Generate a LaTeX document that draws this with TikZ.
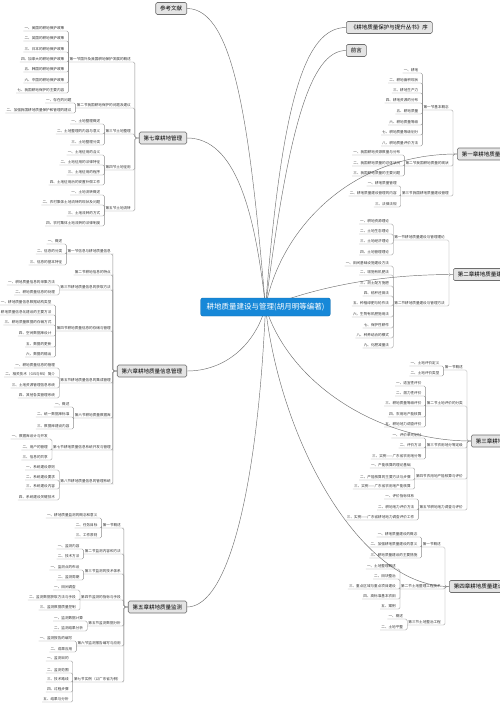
\documentclass[tikz,border=0pt]{standalone}
\usepackage{fontspec}
\setmainfont{Noto Sans CJK SC}
\usepackage{xcolor}
\usetikzlibrary{calc}
\pgfdeclarelayer{background}
\pgfsetlayers{background,main}

\definecolor{rootblue}{HTML}{1788D8}
\definecolor{linegray}{HTML}{8C8C8C}
\definecolor{boxgray}{HTML}{E4E4E4}
\definecolor{boxedge}{HTML}{6E6E6E}

\begin{document}
\begin{tikzpicture}[x=1pt,y=-1pt,
    root/.style={draw=rootblue!80!black, fill=rootblue, text=white, rounded corners=2pt,
        font=\fontsize{7.5}{9}\selectfont, inner xsep=6pt, minimum height=18pt},
    chap/.style={draw=boxedge, fill=boxgray, rounded corners=1.5pt, line width=0.6pt,
        font=\fontsize{5.5}{6.6}\selectfont, inner xsep=4.5pt, inner ysep=0pt, minimum height=12pt},
    sub/.style={anchor=south east, font=\fontsize{3.6}{4.3}\selectfont, inner xsep=1pt,
        inner ysep=1pt, text=black!80},
    link/.style={draw=linegray, line width=0.35pt, rounded corners=1.5pt},
    branch/.style={draw=linegray!80!black, line width=0.45pt}]

    \useasboundingbox (0,0) rectangle (500,707);
    \clip (0,0) rectangle (500,707);

    % Central topic
    \node[root] (root) at (265.5,307) {耕地质量建设与管理(胡月明等编著)};

    % Main topics, left
    \node[chap, anchor=east] (ref) at (187,8.5) {参考文献};
    \node[chap, anchor=east] (ch7) at (187,138) {第七章耕地管理};
    \node[chap, anchor=east] (ch6) at (187,371) {第六章耕地质量信息管理};
    \node[chap, anchor=east] (ch5) at (187,607) {第五章耕地质量监测};

    % Main topics, right
    \node[chap, anchor=west] (xu) at (346,27.5) {《耕地质量保护与提升丛书》序};
    \node[chap, anchor=west] (qy) at (346,50.5) {前言};
    \node[chap, anchor=west] (ch1) at (457,154) {第一章耕地质量概论};
    \node[chap, anchor=west] (ch2) at (453,274.5) {第二章耕地质量建设与管理理论与方法};
    \node[chap, anchor=west] (ch3) at (471,441) {第三章耕地质量评价};
    \node[chap, anchor=west] (ch4) at (449,586.5) {第四章耕地质量建设技术};

    % Branches from the central topic
    \begin{pgfonlayer}{background}
    \draw[branch] (root.center) .. controls (250,130) and (235,8.5) .. (ref.east);
    \draw[branch] (root.center) .. controls (255,210) and (235,138) .. (ch7.east);
    \draw[branch] (root.center) .. controls (255,345) and (225,371) .. (ch6.east);
    \draw[branch] (root.center) .. controls (258,480) and (230,607) .. (ch5.east);
    \draw[branch] (root.center) .. controls (282,100) and (305,27.5) .. (xu.west);
    \draw[branch] (root.center) .. controls (288,130) and (310,50.5) .. (qy.west);
    \draw[branch] (root.center) .. controls (280,230) and (350,154) .. (ch1.west);
    \draw[branch] (root.center) .. controls (310,290) and (370,274.5) .. (ch2.west);
    \draw[branch] (root.center) .. controls (290,385) and (380,441) .. (ch3.west);
    \draw[branch] (root.center) .. controls (280,440) and (360,586.5) .. (ch4.west);
    \end{pgfonlayer}

    % Chapter 7
    \foreach \y/\txt [count=\i] in {59/第一节国外及我国耕地保护发展的概述, 105/第二节我国耕地保护的问题及建议,
        131/第三节土地整理, 167/第四节土地征用, 208/第五节土地流转}{
        \node[sub] (ch7s\i) at (132,\y+3) {\txt};
        \draw[link] (ch7.west) -- ++(-4,0) |- (ch7s\i.south east) -- (ch7s\i.south west);
    }
    \foreach \y/\txt [count=\i] in {28/一、美国的耕地保护政策, 38/二、英国的耕地保护政策, 49/三、日本的耕地保护政策,
        59/四、加拿大的耕地保护政策, 69/五、韩国的耕地保护政策, 80/六、中国的耕地保护政策, 90/七、我国耕地保护的主要内容}{
        \node[sub] (ch7s1-\i) at ($(ch7s1.south west)+(-3,\y-59)$) {\txt};
        \draw[link] (ch7s1.south west) |- (ch7s1-\i.south east) -- (ch7s1-\i.south west);
    }
    \foreach \y/\txt [count=\i] in {100/一、存在的问题, 110/二、加强我国耕地质量保护和管理的建议}{
        \node[sub] (ch7s2-\i) at ($(ch7s2.south west)+(-3,\y-105)$) {\txt};
        \draw[link] (ch7s2.south west) |- (ch7s2-\i.south east) -- (ch7s2-\i.south west);
    }
    \foreach \y/\txt [count=\i] in {121/一、土地整理概述, 131/二、土地整理的内容与意义, 142/三、土地整理分类}{
        \node[sub] (ch7s3-\i) at ($(ch7s3.south west)+(-3,\y-131)$) {\txt};
        \draw[link] (ch7s3.south west) |- (ch7s3-\i.south east) -- (ch7s3-\i.south west);
    }
    \foreach \y/\txt [count=\i] in {152/一、土地征用的含义, 162/二、土地征用的法律特征, 172/三、土地征用的程序,
        182/四、土地征用后的安置补偿工作}{
        \node[sub] (ch7s4-\i) at ($(ch7s4.south west)+(-3,\y-167)$) {\txt};
        \draw[link] (ch7s4.south west) |- (ch7s4-\i.south east) -- (ch7s4-\i.south west);
    }
    \foreach \y/\txt [count=\i] in {192/一、土地流转概述, 202/二、农村集体土地流转的现状及问题, 213/三、土地流转的方式,
        223/四、农村集体土地流转的法律制度}{
        \node[sub] (ch7s5-\i) at ($(ch7s5.south west)+(-3,\y-208)$) {\txt};
        \draw[link] (ch7s5.south west) |- (ch7s5-\i.south east) -- (ch7s5-\i.south west);
    }

    % Chapter 6
    \foreach \y/\txt [count=\i] in {251/第一节信息与耕地质量信息, 272/第二节耕地信息的特点, 287/第三节耕地质量信息的获取方法,
        328/第四节耕地质量信息的存储与管理, 380/第五节耕地质量信息的集成管理, 415/第六节耕地质量数据库,
        447/第七节耕地质量信息系统开发与管理, 481/第八节耕地质量信息的管理系统}{
        \node[sub] (ch6s\i) at (112,\y+3) {\txt};
        \draw[link] (ch6.west) -- ++(-4,0) |- (ch6s\i.south east) -- (ch6s\i.south west);
    }
    \foreach \y/\txt [count=\i] in {241/一、概述, 251/二、信息的分类, 262/三、信息的基本特征}{
        \node[sub] (ch6s1-\i) at ($(ch6s1.south west)+(-3,\y-251)$) {\txt};
        \draw[link] (ch6s1.south west) |- (ch6s1-\i.south east) -- (ch6s1-\i.south west);
    }
    \foreach \y/\txt [count=\i] in {282/一、耕地质量信息的采集方法, 292/二、耕地质量信息的处理}{
        \node[sub] (ch6s3-\i) at ($(ch6s3.south west)+(-3,\y-287)$) {\txt};
        \draw[link] (ch6s3.south west) |- (ch6s3-\i.south east) -- (ch6s3-\i.south west);
    }
    \foreach \y/\txt [count=\i] in {302/一、耕地质量信息数据结构类型, 312/二、耕地质量信息化建设的主要方法,
        322/三、耕地质量数据的存储方式, 333/四、空间数据库设计, 344/五、数据的更新, 354/六、数据的输出}{
        \node[sub] (ch6s4-\i) at ($(ch6s4.south west)+(-3,\y-328)$) {\txt};
        \draw[link] (ch6s4.south west) |- (ch6s4-\i.south east) -- (ch6s4-\i.south west);
    }
    \foreach \y/\txt [count=\i] in {365/一、耕地质量信息的管理, 374/二、相关技术（GIS与RS）简介,
        385/三、土地资源管理信息系统, 395/四、其他各类管理系统}{
        \node[sub] (ch6s5-\i) at ($(ch6s5.south west)+(-3,\y-380)$) {\txt};
        \draw[link] (ch6s5.south west) |- (ch6s5-\i.south east) -- (ch6s5-\i.south west);
    }
    \foreach \y/\txt [count=\i] in {404/一、概述, 414/二、统一数据库标准, 426/三、数据库建设内容}{
        \node[sub] (ch6s6-\i) at ($(ch6s6.south west)+(-3,\y-415)$) {\txt};
        \draw[link] (ch6s6.south west) |- (ch6s6-\i.south east) -- (ch6s6-\i.south west);
    }
    \foreach \y/\txt [count=\i] in {436/一、数据库设计与开发, 447/二、用户的管理, 457/三、信息的共享}{
        \node[sub] (ch6s7-\i) at ($(ch6s7.south west)+(-3,\y-447)$) {\txt};
        \draw[link] (ch6s7.south west) |- (ch6s7-\i.south east) -- (ch6s7-\i.south west);
    }
    \foreach \y/\txt [count=\i] in {467/一、系统建设原则, 477/二、系统建设要求, 486/三、系统建设内容, 497/四、系统建设关键技术}{
        \node[sub] (ch6s8-\i) at ($(ch6s8.south west)+(-3,\y-481)$) {\txt};
        \draw[link] (ch6s8.south west) |- (ch6s8-\i.south east) -- (ch6s8-\i.south west);
    }

    % Chapter 5
    \foreach \y/\txt [count=\i] in {525/第一节概述, 551/第二节监测内容和方法, 571/第三节监测的技术体系,
        597/第四节监测的指标与手段, 623/第五节监测数据分析, 643/第六节监测报告编写与应用,
        679/第七节实例（以广东省为例）}{
        \node[sub] (ch5s\i) at (122,\y+3) {\txt};
        \draw[link] (ch5.west) -- ++(-4,0) |- (ch5s\i.south east) -- (ch5s\i.south west);
    }
    \foreach \y/\txt [count=\i] in {515/一、耕地质量监测的概念和意义, 525/二、任务目标, 535/三、工作原则}{
        \node[sub] (ch5s1-\i) at ($(ch5s1.south west)+(-3,\y-525)$) {\txt};
        \draw[link] (ch5s1.south west) |- (ch5s1-\i.south east) -- (ch5s1-\i.south west);
    }
    \foreach \y/\txt [count=\i] in {546/一、监测内容, 556/二、技术方法}{
        \node[sub] (ch5s2-\i) at ($(ch5s2.south west)+(-3,\y-551)$) {\txt};
        \draw[link] (ch5s2.south west) |- (ch5s2-\i.south east) -- (ch5s2-\i.south west);
    }
    \foreach \y/\txt [count=\i] in {567/一、监测点的布设, 577/二、监测周期}{
        \node[sub] (ch5s3-\i) at ($(ch5s3.south west)+(-3,\y-571)$) {\txt};
        \draw[link] (ch5s3.south west) |- (ch5s3-\i.south east) -- (ch5s3-\i.south west);
    }
    \foreach \y/\txt [count=\i] in {587/一、田间调查, 597/二、监测数据获取方法与手段, 607/三、监测数据质量控制}{
        \node[sub] (ch5s4-\i) at ($(ch5s4.south west)+(-3,\y-597)$) {\txt};
        \draw[link] (ch5s4.south west) |- (ch5s4-\i.south east) -- (ch5s4-\i.south west);
    }
    \foreach \y/\txt [count=\i] in {618/一、监测数据计算, 628/二、监测结果分析}{
        \node[sub] (ch5s5-\i) at ($(ch5s5.south west)+(-3,\y-623)$) {\txt};
        \draw[link] (ch5s5.south west) |- (ch5s5-\i.south east) -- (ch5s5-\i.south west);
    }
    \foreach \y/\txt [count=\i] in {638/一、监测报告的编写, 649/二、成果应用}{
        \node[sub] (ch5s6-\i) at ($(ch5s6.south west)+(-3,\y-643)$) {\txt};
        \draw[link] (ch5s6.south west) |- (ch5s6-\i.south east) -- (ch5s6-\i.south west);
    }
    \foreach \y/\txt [count=\i] in {658/一、监测目的, 670/二、监测范围, 679/三、技术路线, 689/四、过程步骤, 699/五、结果与分析}{
        \node[sub] (ch5s7-\i) at ($(ch5s7.south west)+(-3,\y-679)$) {\txt};
        \draw[link] (ch5s7.south west) |- (ch5s7-\i.south east) -- (ch5s7-\i.south west);
    }

    % Chapter 1
    \foreach \y/\txt [count=\i] in {107/第一节基本概念, 163/第二节我国耕地质量的现状, 193/第三节我国耕地质量建设管理}{
        \node[sub] (ch1s\i) at (450,\y+3) {\txt};
        \draw[link] (ch1.west) -- ++(-4,0) |- (ch1s\i.south east) -- (ch1s\i.south west);
    }
    \foreach \y/\txt [count=\i] in {70/一、耕地, 80/二、耕地面积现状, 90/三、耕地生产力, 100/四、耕地资源的分布,
        111/五、耕地质量, 122/六、耕地质量等级, 132/七、耕地质量等级划分, 143/八、耕地质量评价方法}{
        \node[sub] (ch1s1-\i) at ($(ch1s1.south west)+(-3,\y-107)$) {\txt};
        \draw[link] (ch1s1.south west) |- (ch1s1-\i.south east) -- (ch1s1-\i.south west);
    }
    \foreach \y/\txt [count=\i] in {152/一、我国耕地资源数量与分布, 163/二、我国耕地质量的总体状况, 173/三、我国耕地质量的主要问题}{
        \node[sub] (ch1s2-\i) at ($(ch1s2.south west)+(-3,\y-163)$) {\txt};
        \draw[link] (ch1s2.south west) |- (ch1s2-\i.south east) -- (ch1s2-\i.south west);
    }
    \foreach \y/\txt [count=\i] in {183/一、耕地质量管理, 193/二、耕地质量建设管理的内容, 204/三、法律法规}{
        \node[sub] (ch1s3-\i) at ($(ch1s3.south west)+(-3,\y-193)$) {\txt};
        \draw[link] (ch1s3.south west) |- (ch1s3-\i.south east) -- (ch1s3-\i.south west);
    }

    % Chapter 2
    \foreach \y/\txt [count=\i] in {237/第一节耕地质量建设与管理理论, 303/第二节耕地质量建设与管理方法}{
        \node[sub] (ch2s\i) at (446,\y+3) {\txt};
        \draw[link] (ch2.west) -- ++(-4,0) |- (ch2s\i.south east) -- (ch2s\i.south west);
    }
    \foreach \y/\txt [count=\i] in {221/一、耕地资源理论, 231/二、土地生态理论, 241/三、土地经济理论, 252/四、土地管理理论}{
        \node[sub] (ch2s1-\i) at ($(ch2s1.south west)+(-3,\y-237)$) {\txt};
        \draw[link] (ch2s1.south west) |- (ch2s1-\i.south east) -- (ch2s1-\i.south west);
    }
    \foreach \y/\txt [count=\i] in {263/一、田间基础设施建设方法, 272/二、增施有机肥法, 283/三、测土配方施肥, 293/四、秸秆还田法,
        303/五、种植绿肥与轮作法, 314/六、生物有机肥施用法, 325/七、保护性耕作, 335/八、种养结合的模式, 345/九、化肥减量法}{
        \node[sub] (ch2s2-\i) at ($(ch2s2.south west)+(-3,\y-303)$) {\txt};
        \draw[link] (ch2s2.south west) |- (ch2s2-\i.south east) -- (ch2s2-\i.south west);
    }

    % Chapter 3
    \foreach \y/\txt [count=\i] in {367/第一节概述, 403/第二节土地评价的分类, 445/第三节农用地分等定级,
        476/第四节农用地产能核算与评价, 507/第五节耕地地力调查与评价}{
        \node[sub] (ch3s\i) at (464,\y+3) {\txt};
        \draw[link] (ch3.west) -- ++(-4,0) |- (ch3s\i.south east) -- (ch3s\i.south west);
    }
    \foreach \y/\txt [count=\i] in {363/一、土地评价定义, 373/二、土地评价类型}{
        \node[sub] (ch3s1-\i) at ($(ch3s1.south west)+(-3,\y-367)$) {\txt};
        \draw[link] (ch3s1.south west) |- (ch3s1-\i.south east) -- (ch3s1-\i.south west);
    }
    \foreach \y/\txt [count=\i] in {383/一、适宜性评价, 393/二、潜力性评价, 403/三、耕地质量等级评价, 414/四、农用地产能核算,
        424/五、耕地地力调查评价}{
        \node[sub] (ch3s2-\i) at ($(ch3s2.south west)+(-3,\y-403)$) {\txt};
        \draw[link] (ch3s2.south west) |- (ch3s2-\i.south east) -- (ch3s2-\i.south west);
    }
    \foreach \y/\txt [count=\i] in {435/一、评价单元划分, 445/二、评价方法, 456/三、实例——广东省农用地分等}{
        \node[sub] (ch3s3-\i) at ($(ch3s3.south west)+(-3,\y-445)$) {\txt};
        \draw[link] (ch3s3.south west) |- (ch3s3-\i.south east) -- (ch3s3-\i.south west);
    }
    \foreach \y/\txt [count=\i] in {465/一、产能核算的理论基础, 477/二、产能核算的主要方法与步骤, 486/三、实例——广东省农用地产能核算}{
        \node[sub] (ch3s4-\i) at ($(ch3s4.south west)+(-3,\y-476)$) {\txt};
        \draw[link] (ch3s4.south west) |- (ch3s4-\i.south east) -- (ch3s4-\i.south west);
    }
    \foreach \y/\txt [count=\i] in {496/一、评价指标体系, 507/二、耕地地力评价方法, 517/三、实例——广东省耕地地力调查评价工作}{
        \node[sub] (ch3s5-\i) at ($(ch3s5.south west)+(-3,\y-507)$) {\txt};
        \draw[link] (ch3s5.south west) |- (ch3s5-\i.south east) -- (ch3s5-\i.south west);
    }

    % Chapter 4
    \foreach \y/\txt [count=\i] in {544/第一节概述, 586/第二节土地整理工程技术, 622/第三节土地整治工程}{
        \node[sub] (ch4s\i) at (442,\y+3) {\txt};
        \draw[link] (ch4.west) -- ++(-4,0) |- (ch4s\i.south east) -- (ch4s\i.south west);
    }
    \foreach \y/\txt [count=\i] in {534/一、耕地质量建设的概念, 544/二、加强耕地质量建设的意义, 555/三、耕地质量建设的主要措施}{
        \node[sub] (ch4s1-\i) at ($(ch4s1.south west)+(-3,\y-544)$) {\txt};
        \draw[link] (ch4s1.south west) |- (ch4s1-\i.south east) -- (ch4s1-\i.south west);
    }
    \foreach \y/\txt [count=\i] in {566/一、土地整理概述, 576/二、田块整治, 586/三、重点区域与重点项目建设, 596/四、高标准基本农田,
        606/五、案例}{
        \node[sub] (ch4s2-\i) at ($(ch4s2.south west)+(-3,\y-586)$) {\txt};
        \draw[link] (ch4s2.south west) |- (ch4s2-\i.south east) -- (ch4s2-\i.south west);
    }
    \foreach \y/\txt [count=\i] in {616/一、概述, 627/二、土地平整}{
        \node[sub] (ch4s3-\i) at ($(ch4s3.south west)+(-3,\y-622)$) {\txt};
        \draw[link] (ch4s3.south west) |- (ch4s3-\i.south east) -- (ch4s3-\i.south west);
    }
\end{tikzpicture}
\end{document}
